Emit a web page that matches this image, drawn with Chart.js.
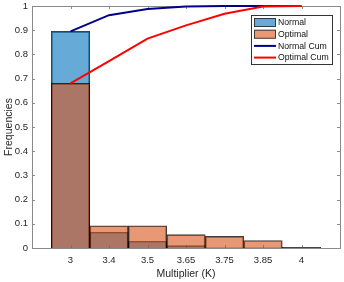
<!DOCTYPE html>
<html>
<head>
<meta charset="utf-8">
<script src="https://cdn.jsdelivr.net/npm/chart.js@4/dist/chart.umd.min.js"></script>
<style>
  html, body { margin: 0; padding: 0; background: #fff; }
  #wrap { width: 344px; height: 282px; position: relative; }
</style>
</head>
<body>
<div id="wrap"><canvas id="main-chart"></canvas></div>
<script>
// multiplier bins
const multLabels = ['3', '3.4', '3.5', '3.65', '3.75', '3.85', '4']
// histogram frequencies
const normalFreq = [0.895, 0.065, 0.028, 0.01, 0.001, 0.001, 0.002]
const optimalFreq = [0.68, 0.092, 0.092, 0.055, 0.048, 0.031, 0.003]
// cumulative curves
const normalCum = [0.895, 0.962, 0.988, 0.998, 1.0, 1.0, 1.0]
const optimalCum = [0.68, 0.772, 0.865, 0.92, 0.968, 0.998, 1.0]
const yTicks = [0, 0.1, 0.2, 0.3, 0.4, 0.5, 0.6, 0.7, 0.8, 0.9, 1]

const txtColor = '#262626'
const fontFam = '"Liberation Sans", Arial, sans-serif'

let toPoints = function(arr) {
    return arr.map((v, i) => ({ x: i, y: v }))
}

// box round the axes + inner ticks (matlab style)
const boxPlugin = {
    id: 'boxPlugin',
    beforeDatasetsDraw(chart) {
        const ctx = chart.ctx
        const a = chart.chartArea
        const xs = chart.scales.x
        const ys = chart.scales.y
        ctx.save()
        ctx.strokeStyle = '#8a8a8a'
        ctx.lineWidth = 1
        ctx.strokeRect(Math.round(a.left) + 0.5, Math.round(a.top) + 0.5,
            Math.round(a.right - a.left), Math.round(a.bottom - a.top))
        ctx.beginPath()
        multLabels.forEach((l, i) => {
            let px = Math.round(xs.getPixelForValue(i)) + 0.5
            ctx.moveTo(px, a.bottom); ctx.lineTo(px, a.bottom - 3)
            ctx.moveTo(px, a.top); ctx.lineTo(px, a.top + 3)
        })
        yTicks.forEach(t => {
            let py = Math.round(ys.getPixelForValue(t)) + 0.5
            ctx.moveTo(a.left, py); ctx.lineTo(a.left + 3, py)
            ctx.moveTo(a.right, py); ctx.lineTo(a.right - 3, py)
        })
        ctx.stroke()
        ctx.restore()
    },
    afterDraw(chart) {
        // legend box inside the plot, top right
        const ctx = chart.ctx
        const items = chart.data.datasets
        const lx = 251, ly = 15, lw = 81, lh = 49
        ctx.save()
        ctx.fillStyle = '#fff'
        ctx.fillRect(lx, ly, lw, lh)
        ctx.strokeStyle = '#333'
        ctx.lineWidth = 1
        ctx.strokeRect(lx + 0.5, ly + 0.5, lw, lh)
        ctx.font = '8.7px ' + fontFam
        ctx.textBaseline = 'middle'
        items.forEach((ds, i) => {
            let cy = ly + 7.5 + i * 11.7
            if (ds.type == 'line') {
                ctx.strokeStyle = ds.borderColor
                ctx.lineWidth = 2
                ctx.beginPath()
                ctx.moveTo(lx + 3, cy); ctx.lineTo(lx + 25, cy)
                ctx.stroke()
            } else {
                ctx.fillStyle = '#fff'
                ctx.fillRect(lx + 3, cy - 4.5, 22, 9)
                ctx.fillStyle = ds.backgroundColor
                ctx.fillRect(lx + 3, cy - 4.5, 22, 9)
                ctx.strokeStyle = '#222'
                ctx.lineWidth = 0.8
                ctx.strokeRect(lx + 3.5, cy - 4, 21, 8)
            }
            ctx.fillStyle = '#111'
            ctx.fillText(ds.label, lx + 27, cy + 0.5)
        })
        ctx.restore()
    }
}

const source = document.getElementById('main-chart')
const repChart = new Chart(source, {
    type: 'bar',
    data: {
        datasets: [{
            label: 'Normal',
            data: toPoints(normalFreq),
            backgroundColor: 'rgba(0, 114, 189, 0.6)',
            borderColor: 'rgba(0, 0, 0, 0.75)',
            borderWidth: 1,
            barPercentage: 1,
            categoryPercentage: 1,
            order: 4
        }, {
            label: 'Optimal',
            data: toPoints(optimalFreq),
            backgroundColor: 'rgba(217, 83, 25, 0.6)',
            borderColor: 'rgba(0, 0, 0, 0.75)',
            borderWidth: 1,
            barPercentage: 1,
            categoryPercentage: 1,
            order: 3
        }, {
            type: 'line',
            label: 'Normal Cum',
            data: toPoints(normalCum),
            borderColor: 'rgb(0, 0, 140)',
            borderWidth: 2,
            pointRadius: 0,
            tension: 0,
            clip: false,
            order: 2
        }, {
            type: 'line',
            label: 'Optimal Cum',
            data: toPoints(optimalCum),
            borderColor: 'rgb(255, 0, 0)',
            borderWidth: 2,
            pointRadius: 0,
            tension: 0,
            clip: false,
            order: 1
        }]
    },
    options: {
        responsive: true,
        maintainAspectRatio: false,
        animation: false,
        devicePixelRatio: 1,
        layout: { padding: { top: 6, right: 4, left: 0, bottom: 0 } },
        plugins: {
            legend: { display: false },
            tooltip: { enabled: false }
        },
        scales: {
            x: {
                type: 'linear',
                stacked: true,
                offset: false,
                min: -1,
                max: 7,
                grid: { display: false, drawTicks: false },
                border: { display: false },
                ticks: {
                    stepSize: 1,
                    autoSkip: false,
                    maxRotation: 0,
                    padding: 7,
                    color: txtColor,
                    font: { family: fontFam, size: 9.5 },
                    callback: v => multLabels[v] || ''
                },
                title: {
                    display: true,
                    text: 'Multiplier (K)',
                    color: txtColor,
                    font: { family: fontFam, size: 10.5 },
                    padding: { top: 0, bottom: 2 }
                },
                afterFit: s => {
                    s.height = 34
                    s.paddingLeft = 0
                    s.paddingRight = 0
                }
            },
            y: {
                stacked: false,
                min: 0,
                max: 1,
                grid: { display: false, drawTicks: false },
                border: { display: false },
                afterBuildTicks: s => { s.ticks = yTicks.map(v => ({ value: v })) },
                ticks: {
                    padding: 4,
                    color: txtColor,
                    font: { family: fontFam, size: 9.5 },
                    callback: v => String(Math.round(v * 10) / 10)
                },
                title: {
                    display: true,
                    text: 'Frequencies',
                    color: txtColor,
                    font: { family: fontFam, size: 10.5 },
                    padding: { top: 3, bottom: 0 }
                },
                afterFit: s => {
                    s.width = 32
                    s.paddingTop = 0
                    s.paddingBottom = 0
                }
            }
        }
    },
    plugins: [boxPlugin]
})
</script>
</body>
</html>
